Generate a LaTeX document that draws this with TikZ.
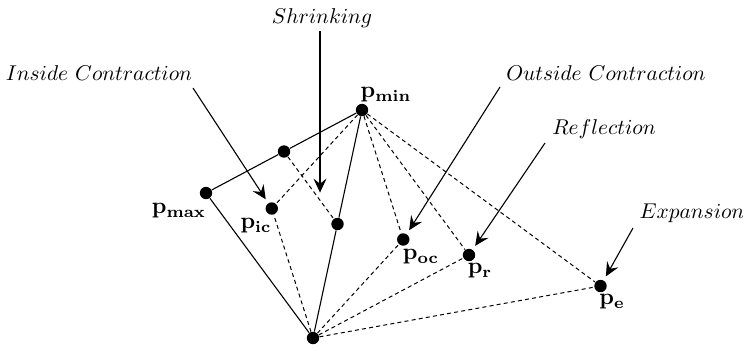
\documentclass[tikz,border=0pt]{standalone}
\usepackage{amsmath}
\usetikzlibrary{arrows.meta,calc}
\tikzset{
  nmvertex/.style={circle, fill=black, inner sep=0pt, minimum size=6.2pt},
  nmedge/.style={draw=black, line width=0.55pt},
  nmtrial/.style={draw=black, line width=0.5pt, dash pattern=on 2pt off 1.6pt},
  nmarrow/.style={-{Stealth[length=7pt,width=6.5pt,inset=2.6pt]}, line width=0.55pt,
                  shorten >=2.2pt},
  nmlabel/.style={inner sep=0pt, scale=1.07},
  nmname/.style={inner sep=0pt, scale=1.15},
}
\newcommand{\nmpt}[1]{$\mathbf{p}_{\mathbf{#1}}$}

\begin{document}
\begin{tikzpicture}[x=0.5pt,y=-0.5pt]
  \useasboundingbox (0,0) rectangle (743,349);
  % simplex and shrink points
  \node[nmvertex] (pmax) at (206,193) {};
  \node[nmvertex] (pmin) at (362,110) {};
  \node[nmvertex] (pbot) at (313,338) {};
  \node[nmvertex] (mid) at ($(pmax)!0.5!(pmin)$) {};
  \node[nmvertex] (shr) at ($(pmin)!0.5!(pbot)$) {};
  % trial points along pmax -> centroid
  \node[nmvertex] (pic) at ($(pmax)!0.5!(shr)$) {};
  \node[nmvertex] (poc) at ($(pmax)!1.5!(shr)$) {};
  \node[nmvertex] (pr)  at ($(pmax)!2!(shr)$) {};
  \node[nmvertex] (pe)  at ($(pmax)!3!(shr)$) {};
  \draw[nmedge] (pmax) -- (mid) -- (pmin) -- (shr) -- (pbot) -- (pmax);
  \draw[nmtrial] (mid) -- (shr);
  \foreach \t in {pic,poc,pr,pe} {
    \draw[nmtrial] (pmin) -- (\t);
    \draw[nmtrial] (pbot) -- (\t);
  }
  % point names
  \node[nmname] (lmax) at (179,211) {\nmpt{max}};
  \node[nmname] (lmin) at (386,95)  {\nmpt{min}};
  \node[nmname] (lic)  at (256,226) {\nmpt{ic}};
  \node[nmname] (loc)  at (421,257) {\nmpt{oc}};
  \node[nmname] (lr)   at (480,271) {\nmpt{r}};
  \node[nmname] (le)   at (612,302) {\nmpt{e}};
  % operation labels
  \node[nmlabel] (tic) at (99,73)  {$Inside\ Contraction$};
  \node[nmlabel] (tsh) at (322,18) {$Shrinking$};
  \node[nmlabel] (toc) at (606,73) {$Outside\ Contraction$};
  \node[nmlabel] (tre) at (604,129) {$Reflection$};
  \node[nmlabel] (tex) at (692,213) {$Expansion$};
  \coordinate (icS) at (193,88);
  \coordinate (shS) at (320,31);
  \coordinate (shT) at (320,197);
  \coordinate (ocS) at (500,87);
  \coordinate (reS) at (545,143);
  \coordinate (exS) at (633,228);
  \draw[nmarrow] (icS) -- (pic);
  \draw[nmarrow] (shS) -- (shT);
  \draw[nmarrow] (ocS) -- (poc);
  \draw[nmarrow] (reS) -- (pr);
  \draw[nmarrow] (exS) -- (pe);
\end{tikzpicture}
\end{document}
